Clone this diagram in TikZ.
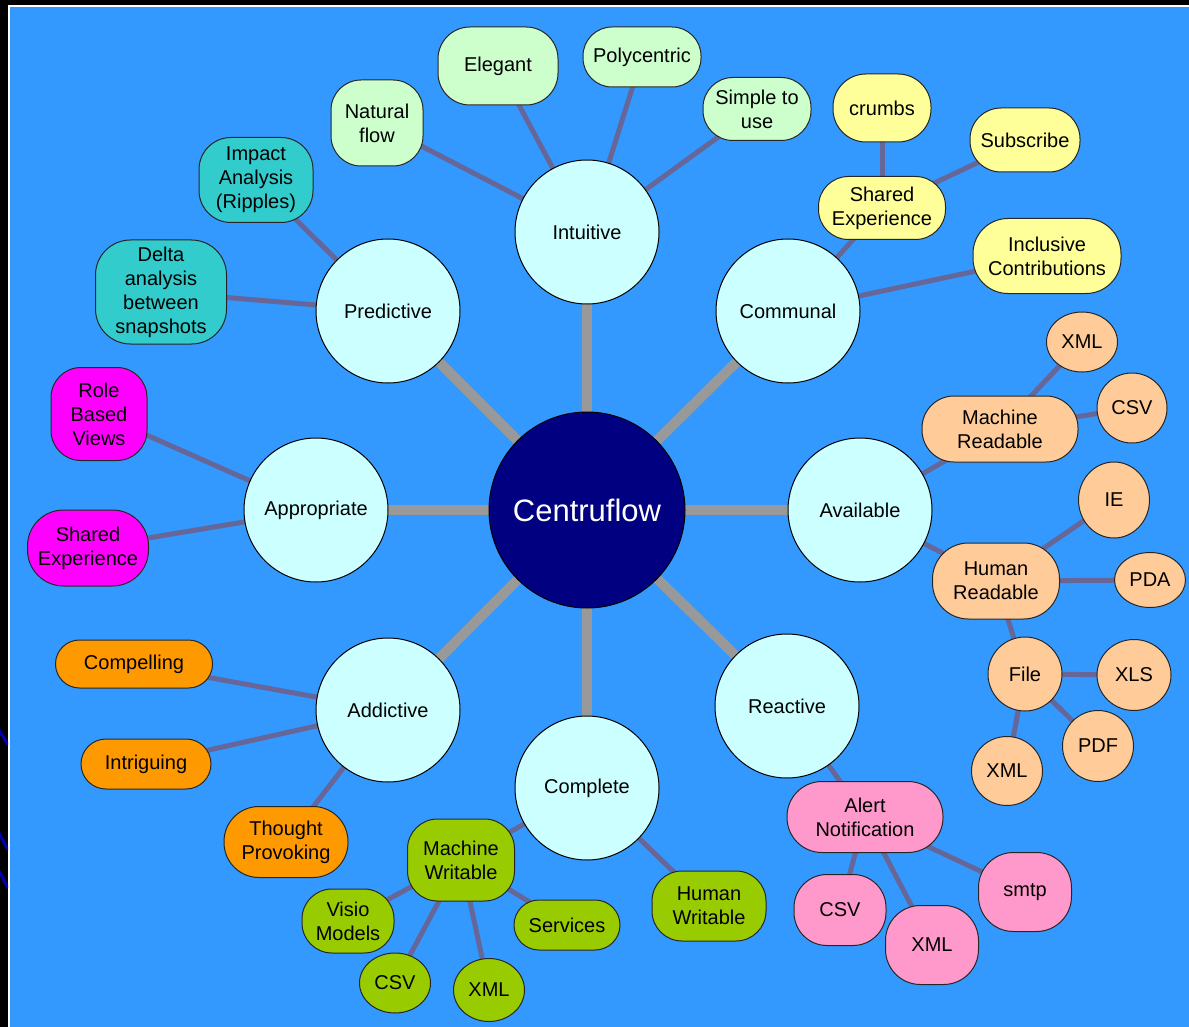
\documentclass[tikz,border=0pt]{standalone}
\usepackage{fontspec}
\setmainfont{Liberation Sans}
\usetikzlibrary{shapes.geometric}
\pgfdeclarelayer{backdrop}
\pgfdeclarelayer{links}
\pgfsetlayers{backdrop,links,main}
\definecolor{bgblue}{HTML}{3399FF}
\definecolor{decoblue}{HTML}{0000B0}
\definecolor{hubfill}{HTML}{CCFFFF}
\definecolor{navyc}{HTML}{000080}
\definecolor{spokec}{HTML}{999999}
\definecolor{linkc}{HTML}{666699}
\definecolor{cgreen}{HTML}{CCFFCC}
\definecolor{cteal}{HTML}{33CCCC}
\definecolor{cyellow}{HTML}{FFFF99}
\definecolor{cpeach}{HTML}{FFCC99}
\definecolor{cpink}{HTML}{FF99CC}
\definecolor{colive}{HTML}{99CC00}
\definecolor{corange}{HTML}{FF9900}
\definecolor{cmagenta}{HTML}{FF00FF}
\begin{document}
\begin{tikzpicture}[x=1pt,y=-1pt,
  txt/.style={font=\fontsize{20pt}{24pt}\selectfont, align=center, text=black},
  hub/.style={txt, circle, draw=black, line width=1pt, fill=hubfill, minimum size=144pt, inner sep=0pt},
  core/.style={circle, draw=black, line width=1pt, fill=navyc, minimum size=196pt, inner sep=0pt, text=white, font=\fontsize{31pt}{36pt}\selectfont},
  leaf/.style={txt, rectangle, draw=black!85, line width=1pt, inner sep=0pt},
  oval/.style={txt, ellipse, draw=black!85, line width=1pt, inner sep=0pt},
  spoke/.style={draw=spokec, line width=10pt},
  link/.style={draw=linkc, line width=5pt},
  fg/.style={fill=cgreen}, ft/.style={fill=cteal}, fy/.style={fill=cyellow},
  fp/.style={fill=cpeach}, fk/.style={fill=cpink}, fo/.style={fill=colive},
  fr/.style={fill=corange}, fm/.style={fill=cmagenta}
]
\begin{pgfonlayer}{backdrop}
  \fill[black] (0,0) rectangle (1189,1027);
  \fill[white] (8,5) rectangle (1189,1027);
  \fill[bgblue] (10,7) rectangle (1189,1027);
  \begin{scope}
    \clip (0,0) rectangle (8,1027);
    \draw[decoblue, line width=3pt] (-2,728) -- (8,745);
    \draw[decoblue, line width=3pt] (-2,831) -- (8,850);
    \draw[decoblue, line width=3pt] (-2,869) -- (8,888);
  \end{scope}
\end{pgfonlayer}
\useasboundingbox (0,0) rectangle (1189,1027);

% centre and hubs
\node[core] (c) at (587,510) {Centruflow};
\node[hub] (int) at (587,232) {Intuitive};
\node[hub] (com) at (788,311) {Communal};
\node[hub] (ava) at (860,510) {Available};
\node[hub] (rea) at (787,706) {Reactive};
\node[hub] (cpl) at (587,788) {Complete};
\node[hub] (add) at (388,710) {Addictive};
\node[hub] (app) at (316,510) {Appropriate};
\node[hub] (pre) at (388,311) {Predictive};

% Intuitive
\node[leaf,fg,minimum width=92pt,minimum height=86pt,rounded corners=30pt] (nat) at (377,123) {Natural\\flow};
\node[leaf,fg,minimum width=120pt,minimum height=78pt,rounded corners=32pt] (ele) at (498,66) {Elegant};
\node[leaf,fg,minimum width=118pt,minimum height=60pt,rounded corners=29pt] (pol) at (642,57) {Polycentric};
\node[leaf,fg,minimum width=108pt,minimum height=63pt,rounded corners=30pt] (sim) at (757,109) {Simple to\\use};

% Predictive
\node[leaf,ft,minimum width=114pt,minimum height=85pt,rounded corners=32pt] (imp) at (256,180) {Impact\\Analysis\\(Ripples)};
\node[leaf,ft,minimum width=131pt,minimum height=104pt,rounded corners=35pt] (del) at (161,292) {Delta\\analysis\\between\\snapshots};

% Communal
\node[leaf,fy,minimum width=127pt,minimum height=63pt,rounded corners=30pt] (she) at (882,208) {Shared\\Experience};
\node[leaf,fy,minimum width=98pt,minimum height=68pt,rounded corners=33pt] (cru) at (882,108) {crumbs};
\node[leaf,fy,minimum width=110pt,minimum height=64pt,rounded corners=31pt] (sub) at (1025,140) {Subscribe};
\node[leaf,fy,minimum width=148pt,minimum height=75pt,rounded corners=35pt] (inc) at (1047,256) {Inclusive\\Contributions};

% Available
\node[leaf,fp,minimum width=156pt,minimum height=66pt,rounded corners=32pt] (mr) at (1000,429) {Machine\\Readable};
\node[oval,fp,minimum width=71pt,minimum height=60pt] (mrx) at (1082,342) {XML};
\node[oval,fp,minimum width=70pt,minimum height=70pt] (mrc) at (1132,408) {CSV};
\node[leaf,fp,minimum width=127pt,minimum height=76pt,rounded corners=36pt] (hr) at (996,581) {Human\\Readable};
\node[oval,fp,minimum width=71pt,minimum height=76pt] (ie) at (1114,500) {IE};
\node[oval,fp,minimum width=71pt,minimum height=55pt] (pda) at (1150,580) {PDA};
\node[oval,fp,minimum width=74pt,minimum height=74pt] (fil) at (1025,674) {File};
\node[oval,fp,minimum width=74pt,minimum height=71pt] (xls) at (1134,675) {XLS};
\node[oval,fp,minimum width=71pt,minimum height=71pt] (pdf) at (1098,746) {PDF};
\node[oval,fp,minimum width=71pt,minimum height=69pt] (fx) at (1007,771) {XML};

% Reactive
\node[leaf,fk,minimum width=156pt,minimum height=71pt,rounded corners=35pt] (ale) at (865,817) {Alert\\Notification};
\node[leaf,fk,minimum width=92pt,minimum height=71pt,rounded corners=33pt] (acs) at (840,910) {CSV};
\node[leaf,fk,minimum width=93pt,minimum height=79pt,rounded corners=35pt] (axm) at (932,945) {XML};
\node[leaf,fk,minimum width=93pt,minimum height=79pt,rounded corners=35pt] (smt) at (1025,892) {smtp};

% Complete
\node[leaf,fo,minimum width=107pt,minimum height=82pt,rounded corners=30pt] (mw) at (461,860) {Machine\\Writable};
\node[leaf,fo,minimum width=114pt,minimum height=70pt,rounded corners=30pt] (hw) at (709,906) {Human\\Writable};
\node[leaf,fo,minimum width=92pt,minimum height=64pt,rounded corners=30pt] (vis) at (348,921) {Visio\\Models};
\node[oval,fo,minimum width=71pt,minimum height=60pt] (wcs) at (395,983) {CSV};
\node[oval,fo,minimum width=71pt,minimum height=63pt] (wxm) at (489,990) {XML};
\node[leaf,fo,minimum width=106pt,minimum height=50pt,rounded corners=25pt] (ser) at (567,925) {Services};

% Addictive
\node[leaf,fr,minimum width=157pt,minimum height=48pt,rounded corners=24pt] (cmp) at (134,664) {Compelling};
\node[leaf,fr,minimum width=130pt,minimum height=50pt,rounded corners=25pt] (itr) at (146,764) {Intriguing};
\node[leaf,fr,minimum width=124pt,minimum height=71pt,rounded corners=35pt] (tho) at (286,842) {Thought\\Provoking};

% Appropriate
\node[leaf,fm,minimum width=96pt,minimum height=93pt,rounded corners=30pt] (rol) at (99,414) {Role\\Based\\Views};
\node[leaf,fm,minimum width=121pt,minimum height=76pt,rounded corners=36pt] (msh) at (88,548) {Shared\\Experience};

\begin{pgfonlayer}{links}
  \foreach \h in {int,com,ava,rea,cpl,add,app,pre}
    \draw[spoke] (c.center) -- (\h.center);
  \foreach \a/\b in {int/nat,int/ele,int/pol,int/sim,
                     pre/imp,pre/del,
                     com/she,com/inc,she/cru,she/sub,
                     ava/mr,ava/hr,mr/mrx,mr/mrc,hr/ie,hr/pda,hr/fil,fil/xls,fil/pdf,fil/fx,
                     rea/ale,ale/acs,ale/axm,ale/smt,
                     cpl/mw,cpl/hw,mw/vis,mw/wcs,mw/wxm,mw/ser,
                     add/cmp,add/itr,add/tho,
                     app/rol,app/msh}
    \draw[link] (\a.center) -- (\b.center);
\end{pgfonlayer}
\end{tikzpicture}
\end{document}
